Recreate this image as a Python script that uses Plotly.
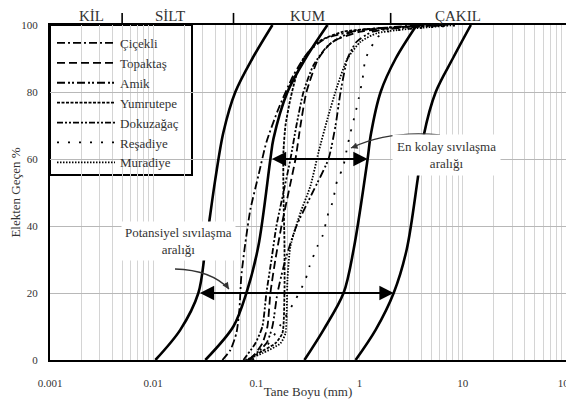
import numpy as np
import plotly.graph_objects as go

# ---------------- data (grain size in mm, percent passing) ----------------
# boundary curves of the liquefaction ranges
b1_pct = [0, 9, 20, 33, 54, 68, 80, 90, 100]
b1_mm = [0.0105, 0.0183, 0.0274, 0.0320, 0.0400, 0.0479, 0.0625, 0.0914, 0.143]
b2_pct = [0, 10, 20, 34, 60, 66, 80, 90, 100]
b2_mm = [0.0320, 0.0598, 0.0800, 0.1045, 0.1367, 0.1462, 0.200, 0.299, 0.488]
b3_pct = [0, 9, 20, 33, 60, 67, 80, 90, 100]
b3_mm = [0.292, 0.447, 0.699, 0.875, 1.196, 1.280, 1.599, 2.238, 3.575]
b4_pct = [0, 9, 20, 33, 54, 67, 80, 90, 100]
b4_mm = [0.915, 1.430, 2.139, 2.860, 3.655, 4.181, 5.466, 8.00, 11.97]

# sample gradation curves
cicekli_pct = [0, 3, 8, 15, 25, 35, 45, 55, 65, 75, 85, 92, 96, 98.5, 100]
cicekli_mm = [0.0468, 0.0560, 0.0640, 0.0684, 0.0714, 0.0782, 0.0875, 0.1045, 0.125,
              0.1636, 0.2286, 0.3197, 0.4671, 1.023, 3.909]
topaktas_pct = [0, 5, 10, 20, 30, 40, 50, 60, 70, 80, 90, 95, 98, 100]
topaktas_mm = [0.0875, 0.1143, 0.1279, 0.1367, 0.1528, 0.175, 0.2047, 0.2392, 0.2674,
               0.3055, 0.3996, 0.546, 1.023, 4.888]
amik_pct = [0, 5, 10, 20, 30, 40, 50, 60, 70, 80, 90, 95, 98, 100]
amik_mm = [0.0836, 0.125, 0.1429, 0.160, 0.1913, 0.2443, 0.350, 0.4994, 0.5846,
           0.6541, 0.7644, 0.936, 1.337, 7.647]
yumrutepe_pct = [0, 2, 5, 8, 20, 35, 50, 62, 70, 78, 85, 90, 95, 98, 100]
yumrutepe_mm = [0.0818, 0.1045, 0.1528, 0.1786, 0.187, 0.187, 0.1828, 0.1828, 0.1913,
                0.2138, 0.2443, 0.2859, 0.3996, 0.6993, 6.84]
dokuzagac_pct = [0, 5, 10, 20, 30, 40, 50, 60, 70, 80, 88, 94, 98, 100]
dokuzagac_mm = [0.0748, 0.0978, 0.1143, 0.125, 0.140, 0.1563, 0.1828, 0.2138, 0.2443,
                0.2859, 0.3574, 0.4994, 0.855, 6.113]
resadiye_pct = [0, 4.5, 8, 18, 24, 28, 34, 37, 44, 47, 54, 57, 64, 68, 74, 78, 84, 90,
                96.4, 98, 100]
resadiye_mm = [0.0914, 0.1279, 0.1528, 0.2392, 0.2990, 0.3273, 0.3907, 0.4368, 0.4994,
               0.5460, 0.6112, 0.6839, 0.7644, 0.8178, 0.9150, 0.9790, 1.070, 1.144,
               1.495, 1.870, 10.0]
muradiye_pct = [0, 2, 5, 8, 24, 34, 44, 52, 62, 72, 82, 90, 95, 97.6, 100]
muradiye_mm = [0.0782, 0.1143, 0.1710, 0.1913, 0.2000, 0.2138, 0.2674, 0.3343, 0.3996,
               0.4884, 0.6112, 0.7644, 1.023, 1.495, 8.55]

series_names = ["Çiçekli", "Topaktaş", "Amik", "Yumrutepe", "Dokuzağaç", "Reşadiye", "Muradiye"]
series_x = [cicekli_mm, topaktas_mm, amik_mm, yumrutepe_mm, dokuzagac_mm, resadiye_mm, muradiye_mm]
series_y = [cicekli_pct, topaktas_pct, amik_pct, yumrutepe_pct, dokuzagac_pct, resadiye_pct, muradiye_pct]

# soil class boundaries (mm) and labels
class_bounds = [0.005, 0.06, 2.0]
class_labels = ["KİL", "SİLT", "KUM", "ÇAKIL"]
class_label_pos = [0.0025, 0.0146, 0.316, 9.0]

x_tick_vals = [0.001, 0.01, 0.1, 1, 10, 100]
x_tick_text = ["0.001", "0.01", "0.1", "1", "10", "100"]
y_tick_vals = [0, 20, 40, 60, 80, 100]

# ---------------- styling ----------------
FONT = "Liberation Serif"
TXT = "#333333"
dashes = ["8px,3px,2px,3px", "8px,4px", "8px,3px,2px,2px,2px,3px", "3px,1.5px",
          "6px,2px,2px,2px,2px,2px", "2px,9px", "1.5px,1.5px"]

fig = go.Figure()

for bx, by in [(b1_mm, b1_pct), (b2_mm, b2_pct), (b3_mm, b3_pct), (b4_mm, b4_pct)]:
    fig.add_trace(go.Scatter(x=bx, y=by, mode="lines", showlegend=False,
                             line=dict(color="black", width=2.6, shape="spline", smoothing=0.9),
                             hoverinfo="skip"))

for i, (name, sx, sy) in enumerate(zip(series_names, series_x, series_y)):
    fig.add_trace(go.Scatter(x=sx, y=sy, mode="lines", name=name, legendgroup=name,
                             line=dict(color="black", width=1.8, dash=dashes[i],
                                       shape="spline", smoothing=0.6)))

# vertical gridlines at every 1..9 x decade, labels only at decades
grid_vals = [k * 10.0 ** d for d in range(-3, 2) for k in range(1, 10)] + [100]
grid_text = []
for v in grid_vals:
    lab = ""
    for tv, tt in zip(x_tick_vals, x_tick_text):
        if abs(v - tv) / tv < 1e-9:
            lab = tt
    grid_text.append(lab)

# the page body adds an 8px offset; figure is sized/margined so the plot
# area lands at screen x 50..566, y 25..360
OFF = 8
W, H = 566, 391
L, R, T, B = 50 - OFF, 8, 25 - OFF, 39
pw, ph = W - L - R, H - T - B


def px(xs, ys):
    """screen pixel -> paper coords"""
    return (xs - OFF - L) / pw, (H - B - (ys - OFF)) / ph


shapes = []
# legend box
lx1, ly0 = px(192, 175)
shapes.append(dict(type="rect", xref="paper", yref="paper", x0=0, x1=lx1, y0=ly0, y1=1,
                   fillcolor="white", line=dict(color="black", width=2), layer="between"))
# class separators
for cb in class_bounds:
    xp = (np.log10(cb) + 3) / 5
    shapes.append(dict(type="line", xref="paper", yref="paper", x0=xp, x1=xp,
                       y0=1.0, y1=1.036, line=dict(color="black", width=1.6)))
# curved pointer arrows
p0 = px(175, 269); c0 = px(211, 270); e0 = px(229, 289)
p1 = px(440, 135); c1 = px(389, 130); e1 = px(351, 148)
for a, c, e in [(p0, c0, e0), (p1, c1, e1)]:
    shapes.append(dict(type="path", xref="paper", yref="paper",
                       path=f"M {a[0]},{a[1]} Q {c[0]},{c[1]} {e[0]},{e[1]}",
                       line=dict(color="#333333", width=1.3)))

annotations = []
# double arrows
y_pot = b1_pct[2]
annotations.append(dict(x=np.log10(b4_mm[2]), y=y_pot, ax=np.log10(b1_mm[2]), ay=y_pot,
                        xref="x", yref="y", axref="x", ayref="y", text="", showarrow=True,
                        arrowhead=2, startarrowhead=2, arrowside="end+start",
                        arrowsize=1.3, startarrowsize=1.3, arrowwidth=2.2, arrowcolor="black"))
y_kol = b2_pct[4]
annotations.append(dict(x=np.log10(b3_mm[4]), y=y_kol, ax=np.log10(b2_mm[4]), ay=y_kol,
                        xref="x", yref="y", axref="x", ayref="y", text="", showarrow=True,
                        arrowhead=2, startarrowhead=2, arrowside="end+start",
                        arrowsize=1.3, startarrowsize=1.3, arrowwidth=2.2, arrowcolor="black"))
# heads of curved pointers
annotations.append(dict(x=e0[0], y=e0[1], xref="paper", yref="paper", ax=-5, ay=-7, text="",
                        showarrow=True, arrowhead=2, arrowsize=1, arrowwidth=1.3,
                        arrowcolor="#333333"))
annotations.append(dict(x=e1[0], y=e1[1], xref="paper", yref="paper", ax=8, ay=-3, text="",
                        showarrow=True, arrowhead=2, arrowsize=1, arrowwidth=1.3,
                        arrowcolor="#333333"))
# text labels
tp = px(121, 261)
annotations.append(dict(x=tp[0], y=tp[1], xref="paper", yref="paper", showarrow=False,
                        text="Potansiyel sıvılaşma<br>aralığı", align="center",
                        font=dict(family=FONT, size=13, color=TXT), bgcolor="white", borderpad=3))
tk = px(501, 155)
annotations.append(dict(x=tk[0], y=tk[1], xref="paper", yref="paper", showarrow=False,
                        text="En kolay sıvılaşma<br>aralığı", align="center",
                        font=dict(family=FONT, size=13, color=TXT), bgcolor="white", borderpad=4))
for lab, pos in zip(class_labels, class_label_pos):
    annotations.append(dict(x=np.log10(pos), y=1.0, xref="x", yref="paper", yanchor="bottom",
                            showarrow=False, text=lab, yshift=-1,
                            font=dict(family=FONT, size=15, color=TXT)))

lgx, lgy = px(52, 28)
fig.update_layout(
    width=W, height=H, margin=dict(l=L, r=R, t=T, b=B, autoexpand=False),
    paper_bgcolor="white", plot_bgcolor="white",
    font=dict(family=FONT, size=11, color=TXT),
    showlegend=True,
    legend=dict(x=lgx, y=lgy, xanchor="left", yanchor="top", bgcolor="rgba(0,0,0,0)",
                borderwidth=0, itemwidth=58, tracegroupgap=0,
                font=dict(family=FONT, size=13, color=TXT)),
    xaxis=dict(type="log", range=[-3, 2], tickvals=grid_vals, ticktext=grid_text,
               automargin=False, ticklabeloverflow="allow",
               showgrid=True, gridcolor="#d4d4d4", gridwidth=1, zeroline=False,
               showline=True, linecolor="black", linewidth=2, mirror=True, ticks="",
               ticklabelstandoff=12, tickfont=dict(family=FONT, size=11, color=TXT),
               title=dict(text="Tane Boyu (mm)", standoff=0,
                          font=dict(family=FONT, size=13, color=TXT))),
    yaxis=dict(range=[0, 100], tickvals=y_tick_vals, showgrid=True, gridcolor="#b8b8b8",
               automargin=False,
               gridwidth=1, zeroline=False, showline=True, linecolor="black", linewidth=2,
               mirror=True, ticks="", ticklabelstandoff=8,
               tickfont=dict(family=FONT, size=11, color=TXT),
               title=dict(text="Elekten Geçen %", standoff=4,
                          font=dict(family=FONT, size=13, color=TXT))),
    shapes=shapes, annotations=annotations,
)

fig.write_html("out.html")
